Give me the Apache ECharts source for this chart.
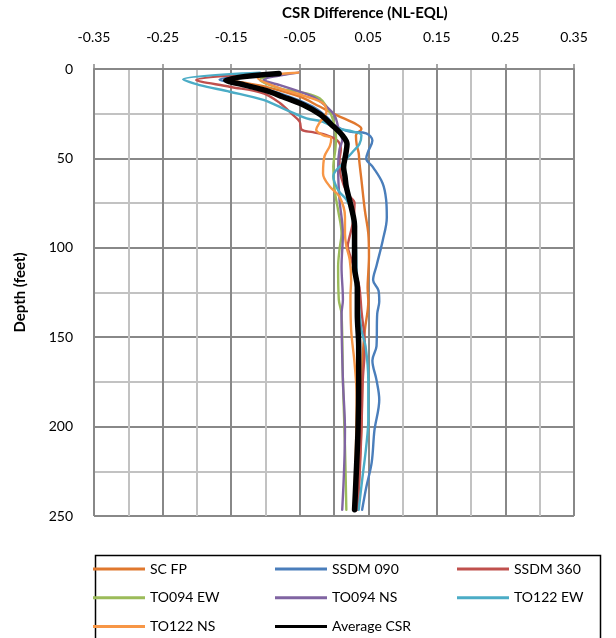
<!DOCTYPE html>
<html>
<head>
<meta charset="utf-8">
<script src="https://cdn.jsdelivr.net/npm/echarts@6/dist/echarts.min.js"></script>
<style>
  html, body { margin: 0; padding: 0; background: #ffffff; }
  #chart { width: 616px; height: 638px; }
</style>
</head>
<body>
<div id="chart"></div>
<script>
// CSR difference (NL - EQL) against depth, one profile per ground motion
const seriesNames = ['SC FP', 'SSDM 090', 'SSDM 360', 'TO094 EW', 'TO094 NS', 'TO122 EW', 'TO122 NS', 'Average CSR'];

// [CSR difference, depth (feet)]
const scFp = [[-0.085,2.5],[-0.147,6],[-0.099,10],[-0.050,15.5],[-0.021,21],[0.003,25.7],[0.033,31],[0.040,33.5],[0.032,37],[0.033,42],[0.036,47],[0.037,52],[0.040,62],[0.045,79],[0.050,92],[0.051,105],[0.050,114],[0.049,122],[0.050,130],[0.045,146],[0.042,160],[0.041,180],[0.040,200],[0.037,225],[0.035,246.5]];
const ssdm090 = [[-0.095,2.5],[-0.167,6],[-0.128,9],[-0.079,13.6],[-0.031,21],[-0.011,26.7],[0.003,32],[0.023,35],[0.047,36],[0.056,40],[0.050,46],[0.047,50],[0.057,55],[0.071,64],[0.076,73],[0.077,83],[0.071,96],[0.062,110],[0.057,118],[0.065,124],[0.066,130],[0.063,137],[0.062,155],[0.056,163],[0.062,174],[0.066,185],[0.059,202],[0.055,220],[0.047,234],[0.041,246.5]];
const ssdm360 = [[-0.100,2.5],[-0.201,6.2],[-0.152,9.9],[-0.103,13.6],[-0.079,19],[-0.060,25.7],[-0.050,29.5],[-0.047,34],[-0.031,35.3],[-0.011,37],[0.005,40],[0.010,45],[0.008,51],[0.010,60],[0.020,70],[0.030,75],[0.028,85],[0.022,95],[0.020,99],[0.025,106],[0.032,115],[0.037,122],[0.040,135],[0.045,155],[0.042,174],[0.040,202],[0.037,230],[0.034,246.5]];
const to094Ew = [[-0.065,2.5],[-0.108,6],[-0.079,10.8],[-0.040,13.6],[-0.021,16.4],[-0.011,21],[-0.004,25.7],[0.001,32],[0.003,38.8],[0.002,45],[-0.001,54.6],[0.001,67.7],[0.006,79],[0.011,92],[0.008,101],[0.006,110.6],[0.007,129],[0.011,137],[0.013,174],[0.016,211],[0.018,246.5]];
const to094Ns = [[-0.052,2],[-0.103,6.2],[-0.079,9],[-0.031,15.5],[-0.011,21],[0.001,26],[0.006,32.3],[0.012,39.7],[0.008,45],[0.006,54.6],[0.008,73],[0.013,92],[0.011,110.6],[0.013,129],[0.011,137],[0.013,174],[0.016,202],[0.012,246.5]];
const to122Ew = [[-0.108,2],[-0.220,5.8],[-0.196,9],[-0.152,12.7],[-0.103,17.3],[-0.069,23],[-0.040,27.6],[-0.016,29.5],[0.003,33],[0.028,35],[0.040,37],[0.037,42],[0.028,46],[0.013,52.7],[-0.001,60],[0.006,67.7],[0.018,73],[0.025,79],[0.030,88],[0.032,100],[0.033,115],[0.036,130],[0.040,146],[0.046,155],[0.050,174],[0.050,196],[0.047,211],[0.041,230],[0.036,246.5]];
const to122Ns = [[-0.052,2],[-0.111,5.2],[-0.079,10.8],[-0.040,15.5],[-0.016,19.2],[-0.011,23.9],[-0.021,30],[-0.026,34],[-0.016,37],[-0.004,38.8],[-0.006,43],[-0.014,49],[-0.016,58.4],[-0.006,65.8],[0.008,71.4],[0.016,82.6],[0.016,92],[0.018,99],[0.023,106.8],[0.025,118],[0.024,127],[0.025,146],[0.030,164.6],[0.033,183],[0.032,211],[0.029,246.5]];
const averageCsr = [[-0.080,2.5],[-0.158,6.2],[-0.130,9],[-0.100,12],[-0.075,15.5],[-0.045,20],[-0.020,25.5],[-0.004,31],[0.012,37],[0.019,42],[0.017,48],[0.014,55],[0.016,60],[0.018,66],[0.025,77],[0.030,88],[0.030,100],[0.030,111],[0.034,122],[0.034,137],[0.036,155],[0.036,174],[0.035,202],[0.032,230],[0.030,246.5]];

const seriesData = [scFp, ssdm090, ssdm360, to094Ew, to094Ns, to122Ew, to122Ns, averageCsr];
const seriesColors = ['#E0782E', '#4A7EBB', '#C0504D', '#9BBB59', '#8064A2', '#4BACC6', '#F79646', '#000000'];
const seriesWidths = [2.4, 2.4, 2.4, 2.4, 2.4, 2.4, 2.4, 5.5];

const FONT = 'Lato, "Open Sans", sans-serif';
const MAJOR = '#888888';
const MINOR = '#c2c2c2';

const legendColumns = [
  ['SC FP', 'TO094 EW', 'TO122 NS'],
  ['SSDM 090', 'TO094 NS', 'Average CSR'],
  ['SSDM 360', 'TO122 EW']
];
const legendLefts = [93, 275, 457];

const chart = echarts.init(document.getElementById('chart'), null, { renderer: 'canvas' });

chart.setOption({
  animation: false,
  backgroundColor: '#ffffff',
  textStyle: { fontFamily: FONT },
  title: {
    text: 'CSR Difference (NL-EQL)',
    left: 282,
    top: 6,
    padding: 0,
    textStyle: { fontFamily: FONT, fontSize: 15, fontWeight: 'bold', color: '#000000' }
  },
  grid: { left: 94, right: 42, top: 69, bottom: 122, containLabel: false },
  xAxis: {
    type: 'value',
    position: 'top',
    min: -0.35,
    max: 0.35,
    interval: 0.1,
    axisLine: { show: true, lineStyle: { color: MAJOR, width: 2 } },
    axisTick: { show: true, length: 5, lineStyle: { color: MAJOR, width: 1.5 } },
    axisLabel: {
      margin: 25,
      fontFamily: FONT, fontSize: 14, color: '#000000',
      formatter: v => v.toFixed(2)
    },
    splitLine: { show: true, lineStyle: { color: MAJOR, width: 2 } },
    minorTick: { show: false, splitNumber: 2 },
    minorSplitLine: { show: true, lineStyle: { color: MINOR, width: 2 } }
  },
  yAxis: {
    type: 'value',
    inverse: true,
    min: 0,
    max: 250,
    interval: 50,
    name: 'Depth (feet)',
    nameLocation: 'middle',
    nameGap: 66,
    nameTextStyle: { fontFamily: FONT, fontSize: 15, fontWeight: 'bold', color: '#000000' },
    axisLine: { show: true, lineStyle: { color: MAJOR, width: 2 } },
    axisTick: { show: true, length: 5, lineStyle: { color: MAJOR, width: 1.5 } },
    axisLabel: { margin: 21, fontFamily: FONT, fontSize: 14, color: '#000000' },
    splitLine: { show: true, lineStyle: { color: MAJOR, width: 2 } },
    minorTick: { show: false, splitNumber: 2 },
    minorSplitLine: { show: true, lineStyle: { color: MINOR, width: 2 } }
  },
  legend: legendColumns.map((names, i) => ({
    orient: 'vertical',
    left: legendLefts[i],
    top: 561,
    padding: 0,
    itemGap: 12.7,
    itemWidth: 52,
    itemHeight: 3,
    icon: 'rect',
    selectedMode: false,
    data: names,
    lineStyle: { width: 3 },
    textStyle: { fontFamily: FONT, fontSize: 14, color: '#000000', lineHeight: 16, padding: [0, 0, 0, 0] }
  })),
  graphic: [{
    type: 'rect',
    silent: true,
    shape: { x: 95.5, y: 555.5, width: 505, height: 100 },
    style: { fill: 'none', stroke: '#000000', lineWidth: 1.5 }
  }],
  series: seriesNames.map((name, i) => ({
    name: name,
    type: 'line',
    data: seriesData[i],
    smooth: 0.35,
    symbol: 'none',
    color: seriesColors[i],
    lineStyle: { color: seriesColors[i], width: seriesWidths[i], cap: 'round', join: 'round' },
    z: i === 7 ? 5 : 2
  }))
});
</script>
</body>
</html>
